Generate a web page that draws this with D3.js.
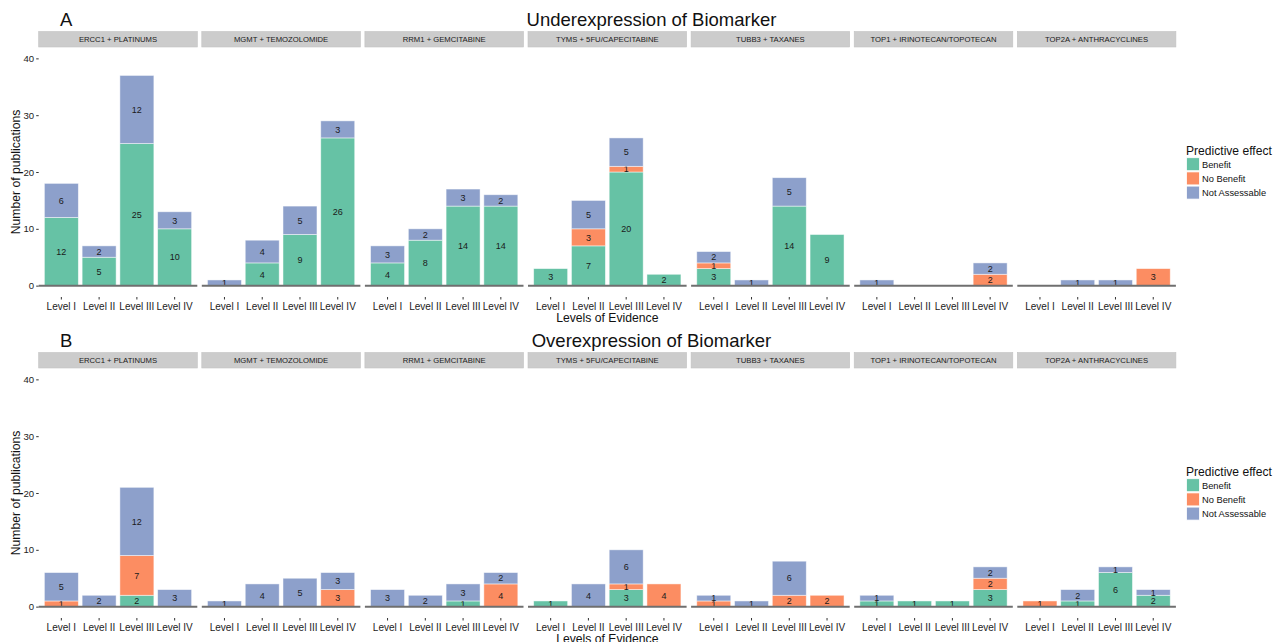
<!DOCTYPE html>
<html>
<head>
<meta charset="utf-8">
<script src="https://cdn.jsdelivr.net/npm/d3@7"></script>
<style>
  body { margin: 0; background: #fff; }
  svg { font-family: "Liberation Sans", Arial, sans-serif; display: block; }
</style>
</head>
<body>
<div id="chart"></div>
<script>
/* DATA */
const therapies = ["ERCC1 + PLATINUMS", "MGMT + TEMOZOLOMIDE", "RRM1 + GEMCITABINE",
  "TYMS + 5FU/CAPECITABINE", "TUBB3 + TAXANES", "TOP1 + IRINOTECAN/TOPOTECAN", "TOP2A + ANTHRACYCLINES"];
const levels = ["Level I", "Level II", "Level III", "Level IV"];
const effects = ["Benefit", "No Benefit", "Not Assessable"];
const effectColors = ["#66c2a5", "#fc8d62", "#8da0cb"];
const yTicks = [0, 10, 20, 30, 40];

// one row per therapy, one value per level
const underBenefit       = [[12,5,25,10],[0,4,9,26],[4,8,14,14],[3,7,20,2],[3,0,14,9],[0,0,0,0],[0,0,0,0]];
const underNoBenefit     = [[0,0,0,0],[0,0,0,0],[0,0,0,0],[0,3,1,0],[1,0,0,0],[0,0,0,2],[0,0,0,3]];
const underNotAssessable = [[6,2,12,3],[1,4,5,3],[3,2,3,2],[0,5,5,0],[2,1,5,0],[1,0,0,2],[0,1,1,0]];

const overBenefit       = [[0,0,2,0],[0,0,0,0],[0,0,1,0],[1,0,3,0],[0,0,0,0],[1,1,1,3],[0,1,6,2]];
const overNoBenefit     = [[1,0,7,0],[0,0,0,3],[0,0,0,4],[0,0,1,4],[1,0,2,2],[0,0,0,2],[1,0,0,0]];
const overNotAssessable = [[5,2,12,3],[1,4,5,3],[3,2,3,2],[0,4,6,0],[1,1,6,0],[1,0,0,2],[0,2,1,1]];

const panels = [
  { letter: "A", title: "Underexpression of Biomarker", series: [underBenefit, underNoBenefit, underNotAssessable], dy: 0 },
  { letter: "B", title: "Overexpression of Biomarker", series: [overBenefit, overNoBenefit, overNotAssessable], dy: 321 }
];

/* LAYOUT */
const width = 1281, height = 642;
const facetLeft = 38.7, facetW = 158.6, facetGap = 4.5;
const stripTop = 31.5, stripH = 15.5;
const plotTop = 47, plotBottom = 297;

const svg = d3.select("#chart").append("svg")
  .attr("width", width).attr("height", height);

const yScale = d3.scaleLinear().domain([-2, 42]).range([plotBottom, plotTop]);
const color = d3.scaleOrdinal().domain(effects).range(effectColors);
const stack = d3.stack().keys(effects);

panels.forEach(p => {
  const g = svg.append("g").attr("transform", `translate(0,${p.dy})`);

  // titles
  g.append("text").attr("x", 60).attr("y", 26).attr("font-size", 18.5).attr("fill", "#111").text(p.letter);
  g.append("text").attr("x", 651.5).attr("y", 26).attr("text-anchor", "middle")
    .attr("font-size", 18.5).attr("fill", "#111").text(p.title);

  therapies.forEach((t, ti) => {
    const x0 = facetLeft + ti * (facetW + facetGap);
    const xScale = d3.scaleBand().domain(levels).range([x0, x0 + facetW])
      .paddingInner(0.1).paddingOuter(0.15);

    // strip
    g.append("rect").attr("x", x0).attr("y", stripTop).attr("width", facetW).attr("height", stripH)
      .attr("fill", "#cccccc").attr("stroke", "#c2c2c2").attr("stroke-width", 0.6);
    g.append("text").attr("x", x0 + facetW / 2).attr("y", stripTop + stripH / 2)
      .attr("dy", "0.36em").attr("text-anchor", "middle").attr("font-size", 7.7)
      .attr("fill", "#1a1a1a").text(t);

    const rows = levels.map((lv, li) => {
      const r = { level: lv };
      effects.forEach((e, ei) => r[e] = p.series[ei][ti][li]);
      return r;
    });
    const stacked = stack(rows);

    const layer = g.append("g").selectAll("g")
      .data(stacked).join("g")
      .attr("fill", d => color(d.key));

    layer.selectAll("rect")
      .data(d => d.filter(s => s[1] - s[0] > 0))
      .join("rect")
      .attr("x", d => xScale(d.data.level))
      .attr("width", xScale.bandwidth())
      .attr("y", d => yScale(d[1]))
      .attr("height", d => yScale(d[0]) - yScale(d[1]))
      .attr("stroke", "#ffffff").attr("stroke-opacity", 0.6).attr("stroke-width", 0.8);

    // zero line
    g.append("line").attr("x1", x0).attr("x2", x0 + facetW)
      .attr("y1", yScale(0)).attr("y2", yScale(0))
      .attr("stroke", "#6f6f6f").attr("stroke-width", 2);

    // segment labels
    layer.selectAll("text")
      .data(d => d.filter(s => s[1] - s[0] > 0))
      .join("text")
      .attr("x", d => xScale(d.data.level) + xScale.bandwidth() / 2)
      .attr("y", d => yScale((d[0] + d[1]) / 2))
      .attr("dy", "0.36em")
      .attr("text-anchor", "middle").attr("font-size", 9).attr("fill", "#1a1a1a")
      .text(d => d[1] - d[0]);

    // x axis
    const xAxis = d3.axisBottom(xScale).tickSize(2.5).tickPadding(3);
    const xg = g.append("g").attr("transform", `translate(0,${plotBottom})`).call(xAxis);
    xg.select(".domain").remove();
    xg.selectAll(".tick line").attr("stroke", "#333");
    xg.selectAll(".tick text").attr("font-size", 10).attr("fill", "#222")
      .attr("font-family", "Liberation Sans, Arial, sans-serif");

    if (ti === 0) {
      const yAxis = d3.axisLeft(yScale).tickValues(yTicks).tickSize(2.5).tickPadding(2);
      const yg = g.append("g").attr("transform", `translate(${x0},0)`).call(yAxis);
      yg.select(".domain").remove();
      yg.selectAll(".tick line").attr("stroke", "#333");
      yg.selectAll(".tick text").attr("font-size", 9.6).attr("fill", "#222")
        .attr("font-family", "Liberation Sans, Arial, sans-serif");
    }
  });

  // axis titles
  g.append("text").attr("transform", `translate(19.5,${(plotTop + plotBottom) / 2}) rotate(-90)`)
    .attr("text-anchor", "middle").attr("font-size", 12.2).attr("fill", "#111")
    .text("Number of publications");
  g.append("text").attr("x", facetLeft + (7 * facetW + 6 * facetGap) / 2).attr("y", 321.5)
    .attr("text-anchor", "middle").attr("font-size", 12.2).attr("fill", "#111")
    .text("Levels of Evidence");

  // legend
  const leg = g.append("g").attr("transform", "translate(1186,0)");
  leg.append("text").attr("x", 0).attr("y", 154.5).attr("font-size", 12.1).attr("fill", "#111")
    .text("Predictive effect");
  effects.forEach((e, i) => {
    leg.append("rect").attr("x", 0.5).attr("y", 157.7 + i * 14.2).attr("width", 13).attr("height", 13)
      .attr("fill", color(e)).attr("stroke", "#ffffff").attr("stroke-width", 0.8);
    leg.append("text").attr("x", 16).attr("y", 157.7 + i * 14.2 + 6.5).attr("dy", "0.36em")
      .attr("font-size", 9.3).attr("fill", "#111").text(e);
  });
});
</script>
</body>
</html>
